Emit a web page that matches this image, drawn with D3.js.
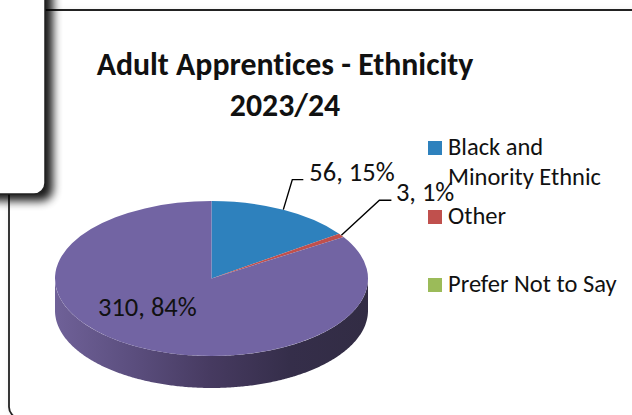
<!DOCTYPE html>
<html>
<head>
<meta charset="utf-8">
<style>
html,body{margin:0;padding:0;background:#fff;overflow:hidden}
svg{display:block}
text{font-family:Carlito,Calibri,Lato,sans-serif;fill:#111;font-variant-ligatures:none}
</style>
<script src="https://cdn.jsdelivr.net/npm/d3@7"></script>
</head>
<body>
<script>
// Slice values in pie order, clockwise from twelve o'clock
const sliceValues = [56, 3, 0, 310];
const sliceColors = ["#2e81bd", "#c0504d", "#9bbb59", "#7264a3"];

// Legend rows: wrapped label lines, swatch centre and first baseline
const legendLines = [["Black and", "Minority Ethnic"], ["Other"], ["Prefer Not to Say"]];
const legendColors = ["#2e81bd", "#c0504d", "#9bbb59"];
const legendSwatchY = [148, 217, 285];

const titleLines = ["Adult Apprentices - Ethnicity", "2023/24"];

const W = 632, H = 415;
const cx = 211.5, cy = 278.5, rx = 156.5, ry = 77.5, depth = 32;

const svg = d3.select("body").append("svg").attr("width", W).attr("height", H);
const defs = svg.append("defs");

defs.append("filter").attr("id", "calloutShadow")
  .attr("x", "-30%").attr("y", "-20%").attr("width", "170%").attr("height", "150%")
  .append("feGaussianBlur").attr("stdDeviation", 5);
defs.append("filter").attr("id", "frameHalo")
  .attr("x", "-5%").attr("y", "-5%").attr("width", "110%").attr("height", "110%")
  .append("feGaussianBlur").attr("stdDeviation", 4);

const wallGrad = defs.append("linearGradient").attr("id", "wallGrad")
  .attr("gradientUnits", "userSpaceOnUse")
  .attr("x1", cx - rx).attr("x2", cx + rx).attr("y1", 0).attr("y2", 0);
[[0, "#6f6198"], [0.25, "#5b4e7e"], [0.5, "#463a60"], [0.75, "#352e4a"], [1, "#322c44"]]
  .forEach(([o, c]) => wallGrad.append("stop").attr("offset", o).attr("stop-color", c));

// Outer chart frame, with its soft halo, running past the right and bottom page edges
svg.append("rect").attr("x", 9).attr("y", 10).attr("width", 720).attr("height", 408).attr("rx", 11)
  .attr("fill", "#000").attr("opacity", 0.07).attr("filter", "url(#frameHalo)");
svg.append("rect").attr("x", 9).attr("y", 10).attr("width", 720).attr("height", 408).attr("rx", 11)
  .attr("fill", "#fff").attr("stroke", "#222").attr("stroke-width", 1.8);

// Overlapping panel in the top-left corner and its drop shadow
svg.append("rect").attr("x", -40).attr("y", -40).attr("width", 93).attr("height", 241).attr("rx", 12)
  .attr("fill", "#000").attr("opacity", 0.9).attr("filter", "url(#calloutShadow)");
svg.append("rect").attr("x", -40).attr("y", -40).attr("width", 85).attr("height", 234).attr("rx", 11)
  .attr("fill", "#fff").attr("stroke", "#222").attr("stroke-width", 1.5);

// Title
svg.append("g").selectAll("text").data(titleLines).join("text")
  .attr("x", 285).attr("y", (d, i) => 75 + i * 41)
  .attr("text-anchor", "middle").attr("font-size", 31.8).attr("font-weight", 700)
  .attr("fill", "#000").text(d => d);

// Pie layout, clockwise from the top and in data order
const total = d3.sum(sliceValues);
const slices = d3.pie().sort(null).value(d => d)(sliceValues);
const project = (a, r = 1) => [cx + rx * r * Math.sin(a), cy - ry * r * Math.cos(a)];

// Front wall of the disc: the part of the last slice facing the viewer
const last = slices[slices.length - 1];
const wallStart = Math.max(last.startAngle, Math.PI / 2);
const wallEnd = Math.min(last.endAngle, 3 * Math.PI / 2);
const wallAngles = d3.range(wallStart, wallEnd, 0.01).concat(wallEnd);
const wall = d3.area()
  .x(a => project(a)[0])
  .y0(a => project(a)[1])
  .y1(a => project(a)[1] + depth);
svg.append("path").attr("d", wall(wallAngles)).attr("fill", "url(#wallGrad)");

// Top face: a circular arc squashed into an ellipse
const arc = d3.arc().innerRadius(0).outerRadius(rx);
svg.append("g").attr("transform", `translate(${cx},${cy}) scale(1,${ry / rx})`)
  .selectAll("path").data(slices).join("path")
  .attr("d", arc).attr("fill", (d, i) => sliceColors[i]);

// Value labels and their elbow leader lines
const labelText = d => `${d.value}, ${Math.round(d.value / total * 100)}%`;
const midAngle = d => (d.startAngle + d.endAngle) / 2;
const leaderSpec = [
  { i: 0, dx: 9, dy: -30, run: 11, tx: 6, ty: 1.5 },
  { i: 1, dx: 38, dy: -35, run: 12, tx: 4.5, ty: 1 }
];
const leaders = svg.append("g");
leaderSpec.forEach(s => {
  const d = slices[s.i];
  const [x0, y0] = project(midAngle(d));
  const x1 = x0 + s.dx, y1 = y0 + s.dy, x2 = x1 + s.run;
  leaders.append("path").attr("d", d3.line()([[x0, y0], [x1, y1], [x2, y1]]))
    .attr("fill", "none").attr("stroke", "#000").attr("stroke-width", 1.4);
  leaders.append("text").attr("x", x2 + s.tx).attr("y", y1 + s.ty)
    .attr("font-size", 26.5).text(labelText(d));
});
svg.append("text").attr("x", 98).attr("y", 316).attr("font-size", 26.5).text(labelText(last));

// Legend
const legend = svg.append("g");
legendLines.forEach((lines, i) => {
  legend.append("rect").attr("x", 428).attr("y", legendSwatchY[i] - 7)
    .attr("width", 14).attr("height", 14).attr("fill", legendColors[i]);
  lines.forEach((line, j) => {
    legend.append("text").attr("x", 448).attr("y", legendSwatchY[i] + 7 + j * 30)
      .attr("font-size", 24.5).text(line);
  });
});
</script>
</body>
</html>
